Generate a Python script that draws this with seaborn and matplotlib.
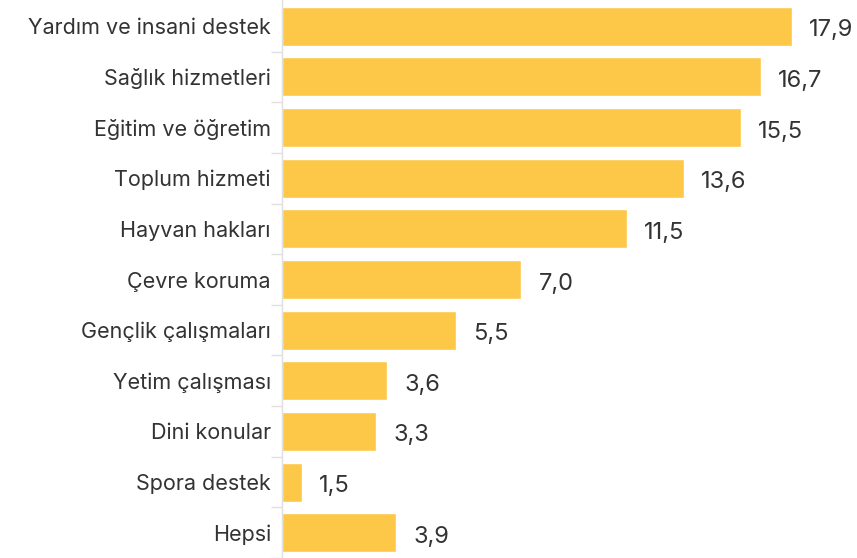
import seaborn as sns
import matplotlib.pyplot as plt
import pandas as pd
import numpy as np

categories = [
    "Yardım ve insani destek", "Sağlık hizmetleri", "Eğitim ve öğretim",
    "Toplum hizmeti", "Hayvan hakları", "Çevre koruma", "Gençlik çalışmaları",
    "Yetim çalışması", "Dini konular", "Spora destek", "Hepsi",
]
# bar lengths as drawn in the picture (not exactly proportional to labels)
bar_lengths = [17.9, 16.8, 16.1, 14.1, 12.1, 8.4, 6.1, 3.7, 3.3, 0.7, 4.0]
value_labels = ["17,9", "16,7", "15,5", "13,6", "11,5", "7,0", "5,5", "3,6", "3,3", "1,5", "3,9"]

df = pd.DataFrame({"category": categories, "value": bar_lengths})

sns.set_style("white")
plt.rcParams["font.family"] = ["Inter", "DejaVu Sans"]

fig = plt.figure(figsize=(8.57, 5.58), dpi=100)
ax = fig.add_axes([282 / 857, 0, 1 - 282 / 857, 1])

sns.barplot(data=df, x="value", y="category", color="#FDC748", saturation=1,
            width=0.77, ax=ax)

ax.set_xlim(0, 575 / 28.5)
ax.set_ylim(10.48, -0.52)
ax.set_xlabel("")
ax.set_ylabel("")
ax.set_xticks([])

for i, (v, lab) in enumerate(zip(bar_lengths, value_labels)):
    ax.text(v + 0.6, i + 0.08, lab, va="center", ha="left",
            fontsize=17, color="#333333")

ax.tick_params(axis="y", length=0, pad=8, labelsize=15.5, labelcolor="#333333")
ax.set_yticks(np.arange(len(categories)) + 0.5, minor=True)
ax.tick_params(axis="y", which="minor", left=True, length=8, color="#e0e0e0", width=1)

for s in ["top", "right", "bottom"]:
    ax.spines[s].set_visible(False)
ax.spines["left"].set_color("#e0e0e0")
ax.spines["left"].set_linewidth(1)

plt.savefig("out.png", dpi=100)
